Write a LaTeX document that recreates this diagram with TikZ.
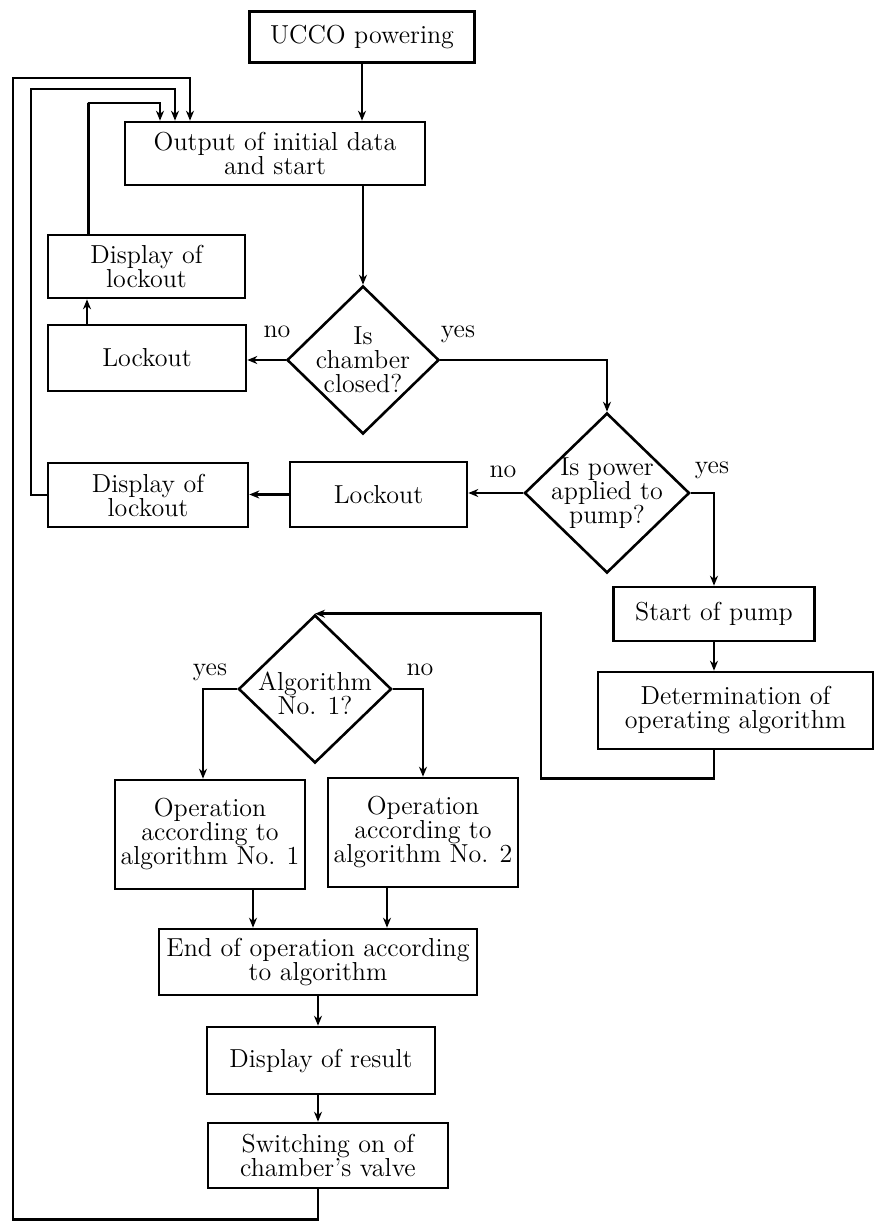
\documentclass[tikz,border=0pt]{standalone}
\usepackage{tikz}
\usetikzlibrary{shapes.geometric,arrows.meta}

\tikzset{
  flowbox/.style={draw, line width=1.3pt, align=center, inner sep=2pt},
  decision/.style={draw, diamond, line width=1.3pt, inner sep=0pt},
  dtext/.style={align=center, inner sep=0pt},
  arr/.style={line width=1.3pt, -{Stealth[length=5pt,width=4pt]}},
}

\begin{document}
\begin{tikzpicture}[x=0.5pt, y=-0.5pt, font=\fontsize{13}{12}\selectfont]
\useasboundingbox (0,0) rectangle (873,1221);

\node [flowbox, minimum width=112.5pt, minimum height=25.5pt] (ucco) at (362,37) {UCCO powering};
\node [flowbox, minimum width=150pt, minimum height=31.5pt] (output) at (275,153.5) {Output of initial data\\and start};
\node [flowbox, minimum width=98.5pt, minimum height=31.5pt] (disp1) at (146.5,266.5) {Display of\\lockout};
\node [flowbox, minimum width=99pt, minimum height=33pt] (lock1) at (147,358) {Lockout};
\node [decision, minimum width=76pt, minimum height=74pt] (dec1) at (363,360) {};
\node [dtext] (dec1t) at (dec1) {Is\\chamber\\closed?};
\node [decision, minimum width=82.5pt, minimum height=80pt] (dec2) at (607,493) {};
\node [dtext] (dec2t) at (dec2) {Is power\\applied to\\pump?};
\node [flowbox, minimum width=88.5pt, minimum height=32.5pt] (lock2) at (378.5,494.5) {Lockout};
\node [flowbox, minimum width=100pt, minimum height=32pt] (disp2) at (148,495) {Display of\\lockout};
\node [flowbox, minimum width=100.5pt, minimum height=27pt] (pump) at (714,614) {Start of pump};
\node [flowbox, minimum width=137.5pt, minimum height=38.5pt] (determ) at (735.5,710.5) {Determination of\\operating algorithm};
\node [decision, minimum width=76.5pt, minimum height=74pt] (dec3) at (315,689) {};
\node [dtext] (dec3t) at ([yshift=-2pt]dec3.center) {Algorithm\\No. 1?};
\node [flowbox, minimum width=95pt, minimum height=54.5pt] (op1) at (210,834.5) {Operation\\according to\\algorithm No. 1};
\node [flowbox, minimum width=95pt, minimum height=54.5pt] (op2) at (423,832.5) {Operation\\according to\\algorithm No. 2};
\node [flowbox, minimum width=159pt, minimum height=33pt] (endop) at (318,962) {End of operation according\\to algorithm};
\node [flowbox, minimum width=114pt, minimum height=33.5pt] (result) at (321,1060.5) {Display of result};
\node [flowbox, minimum width=120pt, minimum height=32.5pt] (valve) at (328,1155.5) {Switching on of\\chamber's valve};

\node (no1) at (277,332) {no};
\node (yes1) at (458,334) {yes};
\node (no2) at (503,472) {no};
\node (yes2) at (712,470) {yes};
\node (yes3) at (210,672) {yes};
\node (no3) at (420,670) {no};

\coordinate (o1) at (13,78);
\coordinate (o2) at (31,89);
\coordinate (o3) at (88,103);
\coordinate (back) at (541,700);

\draw [arr] (ucco.south) -- (ucco.south |- output.north);
\draw [arr] (dec1.north |- output.south) -- (dec1.north);
\draw [arr] (dec1.west) -- (dec1.west -| lock1.east);
\draw [arr] ([xshift=-30pt]lock1.north) -- ([xshift=-30pt]lock1.north |- disp1.south);
\draw [arr] (dec1.east) -| (dec2.north);
\draw [arr] (dec2.west) -- (dec2.west -| lock2.east);
\draw [arr] (lock2.west) -- (lock2.west -| disp2.east);
\draw [arr] (dec2.east) -| (pump.north);
\draw [arr] (pump.south) -- (pump.south |- determ.north);
\draw [arr] (pump.south |- determ.south) -- ++(0,28) -| (back |- dec3.north) -- (dec3.north);
\draw [arr] (dec3.west) -| ([xshift=-3.5pt]op1.north);
\draw [arr] (dec3.east) -| (op2.north);
\draw [arr] ([xshift=21.5pt]op1.south) -- ([xshift=21.5pt]op1.south |- endop.north);
\draw [arr] ([xshift=-18pt]op2.south) -- ([xshift=-18pt]op2.south |- endop.north);
\draw [arr] (endop.south) -- (endop.south |- result.north);
\draw [arr] (endop.south |- result.south) -- (endop.south |- valve.north);
% return loops to the start box
\draw [arr] (endop.south |- valve.south) -- ++(0,30) -| (o1) -| ([xshift=-42.5pt]output.north);
\draw [arr] (disp2.west) -| (o2) -| ([xshift=-50pt]output.north);
\draw [arr] ([xshift=-29pt]disp1.north) |- (o3) -| ([xshift=-57.5pt]output.north);
\end{tikzpicture}
\end{document}
